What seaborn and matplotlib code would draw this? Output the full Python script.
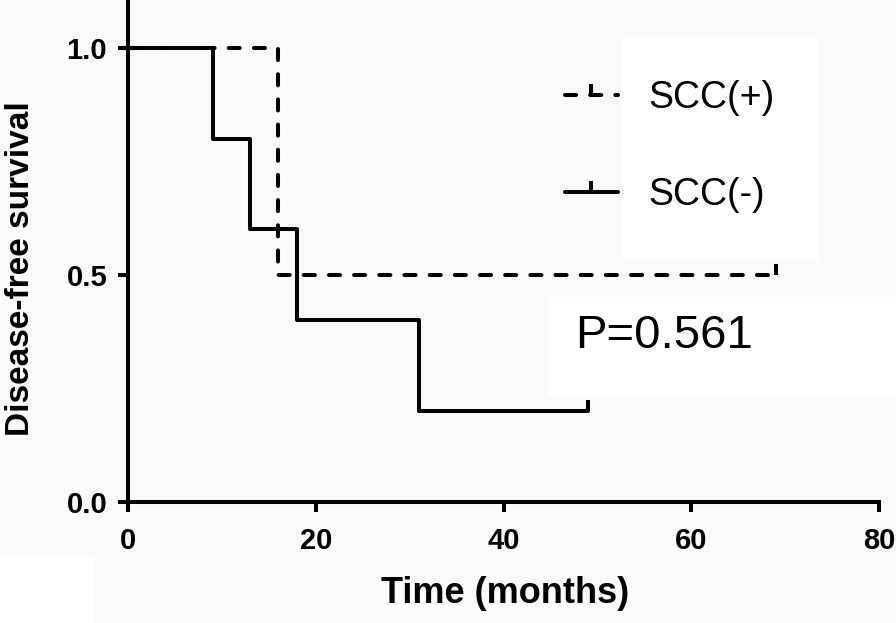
import numpy as np
import pandas as pd
import matplotlib
matplotlib.use('Agg')
import matplotlib.pyplot as plt
from matplotlib.path import Path
from matplotlib.lines import Line2D
from matplotlib.patches import Rectangle
import seaborn as sns

# Kaplan-Meier steps
pos_time = [0, 16, 69]          # SCC(+)
pos_surv = [1.0, 0.5, 0.5]
neg_time = [0, 9, 13, 18, 31, 49]   # SCC(-)
neg_surv = [1.0, 0.8, 0.6, 0.4, 0.2, 0.2]
groups = ['SCC(+)', 'SCC(-)']
censor_time = {'SCC(+)': [69], 'SCC(-)': [49]}
censor_surv = {'SCC(+)': [0.5], 'SCC(-)': [0.2]}
p_text = 'P=0.561'

df = pd.concat([
    pd.DataFrame({'time': pos_time, 'surv': pos_surv, 'group': groups[0]}),
    pd.DataFrame({'time': neg_time, 'surv': neg_surv, 'group': groups[1]}),
])

sns.set_style('ticks')
plt.rcParams['font.family'] = ['Liberation Sans', 'DejaVu Sans']
plt.rcParams['text.color'] = 'black'
plt.rcParams['axes.labelcolor'] = 'black'
plt.rcParams['xtick.color'] = 'black'
plt.rcParams['ytick.color'] = 'black'

lw = 2.9
dash = (2.75, 3.5)
tick = Path([(0, 0), (0, 1)])  # censor mark pointing up

fig, ax = plt.subplots(figsize=(8.96, 6.23), dpi=100)
fig.patch.set_facecolor('#fafafa')
ax.set_facecolor('none')
fig.subplots_adjust(left=0.1429, right=0.981, bottom=0.194, top=1.0)

# white boxes behind the legend and p-value text
for (x0, y0, w, h) in [(623, 37, 195, 223), (548, 297, 348, 100), (0, 555, 95, 68)]:
    fig.patches.append(Rectangle((x0 / 896, 1 - (y0 + h) / 623), w / 896, h / 623,
                                 transform=fig.transFigure, facecolor='white',
                                 edgecolor='none', zorder=-1))

sns.lineplot(data=df, x='time', y='surv', hue='group', style='group',
             palette={g: 'black' for g in groups},
             dashes={'SCC(+)': dash, 'SCC(-)': ''},
             drawstyle='steps-post', linewidth=lw, estimator=None,
             dash_capstyle='round', legend=False, ax=ax)

for g in groups:
    ax.plot(censor_time[g], censor_surv[g], ls='none', marker=tick, ms=16,
            mew=lw, color='black')

ax.set_xlim(0, 80)
ax.set_ylim(0, 1.105)
ax.set_xticks([0, 20, 40, 60, 80])
ax.set_yticks([0.0, 0.5, 1.0])
ax.set_yticklabels(['0.0', '0.5', '1.0'])
sns.despine(ax=ax)
for s in ['left', 'bottom']:
    ax.spines[s].set_linewidth(lw)
    ax.spines[s].set_color('black')
ax.tick_params(axis='both', length=7, width=lw, color='black', labelsize=21)
ax.tick_params(axis='x', pad=11)
ax.tick_params(axis='y', pad=8)
for lab in ax.get_xticklabels() + ax.get_yticklabels():
    lab.set_fontweight('bold')

ax.set_xlabel('Time (months)', fontsize=26, fontweight='bold')
ax.set_ylabel('Disease-free survival', fontsize=24, fontweight='bold')
ax.xaxis.set_label_coords(0.502, -0.148)
ax.yaxis.set_label_coords(-0.1225, 0.466)

handles = [
    Line2D([], [], color='black', lw=lw, ls=(0, dash), dash_capstyle='round',
           marker=tick, ms=16, mew=lw),
    Line2D([], [], color='black', lw=lw, ls='-', marker=tick, ms=16, mew=lw),
]
fig.legend(handles, groups, loc='upper left', bbox_to_anchor=(565 / 896, 0.872),
           frameon=False, fontsize=27, handlelength=1.41, handletextpad=0.8,
           labelspacing=1.63, borderpad=0, borderaxespad=0)

fig.text(575 / 896, 1 - 348 / 623, p_text, fontsize=34, ha='left', va='baseline')

fig.savefig('out.png', dpi=100, facecolor=fig.get_facecolor())
